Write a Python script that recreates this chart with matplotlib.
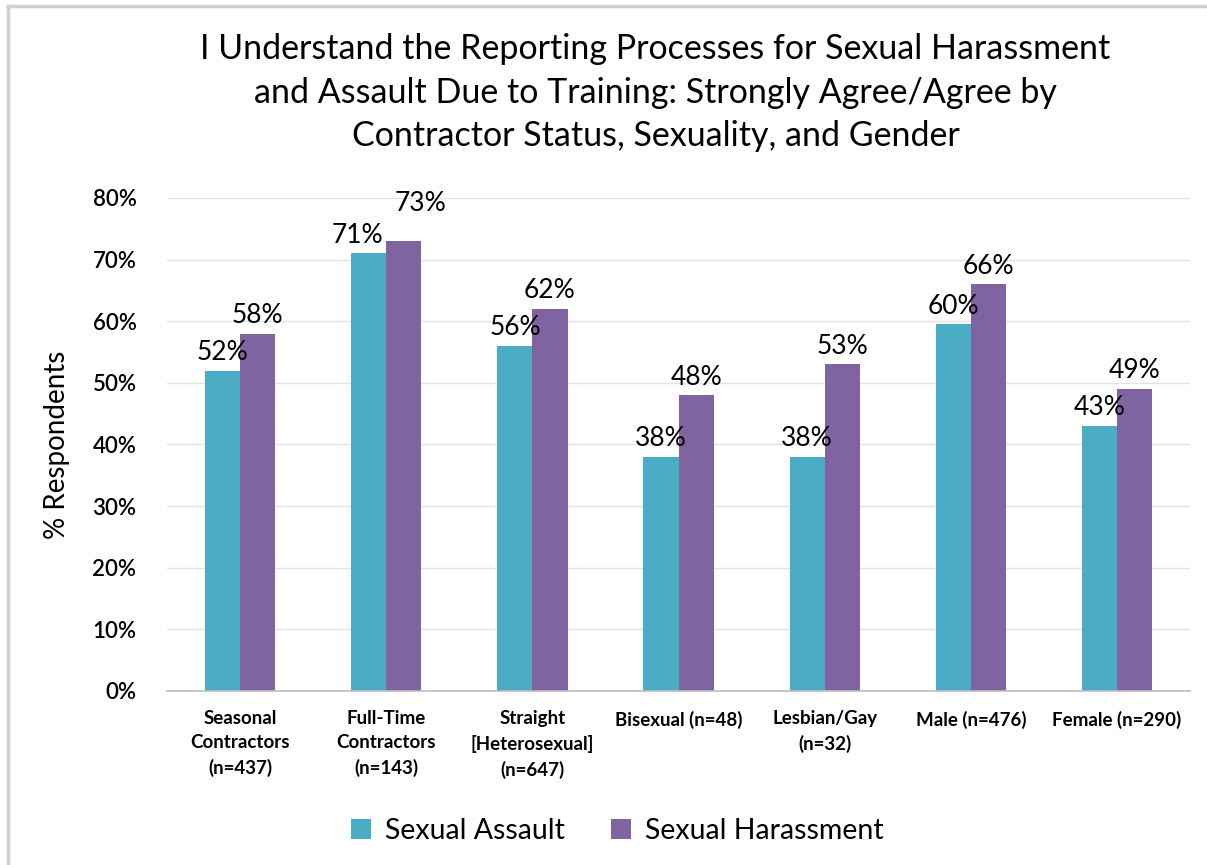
import matplotlib.pyplot as plt
from matplotlib.lines import Line2D
import numpy as np

plt.rcParams['font.family'] = ['Lato', 'DejaVu Sans']

categories = [
    "Seasonal\nContractors\n(n=437)",
    "Full-Time\nContractors\n(n=143)",
    "Straight\n[Heterosexual]\n(n=647)",
    "Bisexual (n=48)",
    "Lesbian/Gay\n(n=32)",
    "Male (n=476)",
    "Female (n=290)",
]
assault = [52, 71, 56, 38, 38, 59.5, 43]
harassment = [58, 73, 62, 48, 53, 66, 49]

title = ("I Understand the Reporting Processes for Sexual Harassment\n"
         "and Assault Due to Training: Strongly Agree/Agree by\n"
         "Contractor Status, Sexuality, and Gender")

fig = plt.figure(figsize=(12.07, 8.65), dpi=100)
ax = fig.add_axes([0.1384, 0.2012, 0.8476, 0.5699])

x = np.arange(len(categories))
w = 0.24

b1 = ax.bar(x - w / 2, assault, w, color="#4BACC6", label="Sexual Assault")
b2 = ax.bar(x + w / 2, harassment, w, color="#8064A2", label="Sexual Harassment")

# small nudges so the crowded Full-Time labels don't collide
nudge = {(0, 1): (-8, 0), (1, 1): (12, 14)}

for si, (bars, vals) in enumerate([(b1, assault), (b2, harassment)]):
    for ci, (rect, v) in enumerate(zip(bars, vals)):
        dx, dy = nudge.get((si, ci), (0, 0))
        ax.annotate(f"{v:.0f}%",
                    (rect.get_x() + rect.get_width() / 2, v),
                    xytext=(dx, 4 + dy), textcoords="offset points",
                    ha="center", va="bottom", fontsize=19)

ax.set_xlim(-0.5, len(categories) - 0.5)
ax.set_ylim(0, 80)
ax.set_yticks(range(0, 81, 10))
ax.set_yticklabels([f"{t}%" for t in range(0, 81, 10)], fontsize=16, fontweight="semibold")
ax.set_xticks(x)
ax.set_xticklabels(categories, fontsize=13.5, fontweight="bold", linespacing=1.5)
ax.tick_params(axis="both", length=0)
ax.tick_params(axis="x", pad=14)
ax.tick_params(axis="y", pad=22)

ax.grid(axis="y", color="#e3e3e3", linewidth=1)
ax.set_axisbelow(True)
for s in ["top", "right", "left"]:
    ax.spines[s].set_visible(False)
ax.spines["bottom"].set_color("#bfbfbf")
ax.spines["bottom"].set_linewidth(1.2)

ax.set_ylabel("% Respondents", fontsize=20, labelpad=16)

fig.text(0.543, 0.962, title, ha="center", va="top", fontsize=24.5, linespacing=1.45)

ax.legend(loc="upper center", bbox_to_anchor=(0.44, -0.205), ncol=2,
          frameon=False, fontsize=20.5, handlelength=0.7, handleheight=0.7,
          columnspacing=1.6, handletextpad=0.5)

# outer frame (left and top edges)
fig.add_artist(Line2D([8 / 1207, 8 / 1207], [0, 1 - 6 / 865],
                      transform=fig.transFigure, color="#d0d0d0", linewidth=2.5))
fig.add_artist(Line2D([8 / 1207, 1], [1 - 6 / 865, 1 - 6 / 865],
                      transform=fig.transFigure, color="#d0d0d0", linewidth=2.5))

fig.savefig("out.png", dpi=100)
